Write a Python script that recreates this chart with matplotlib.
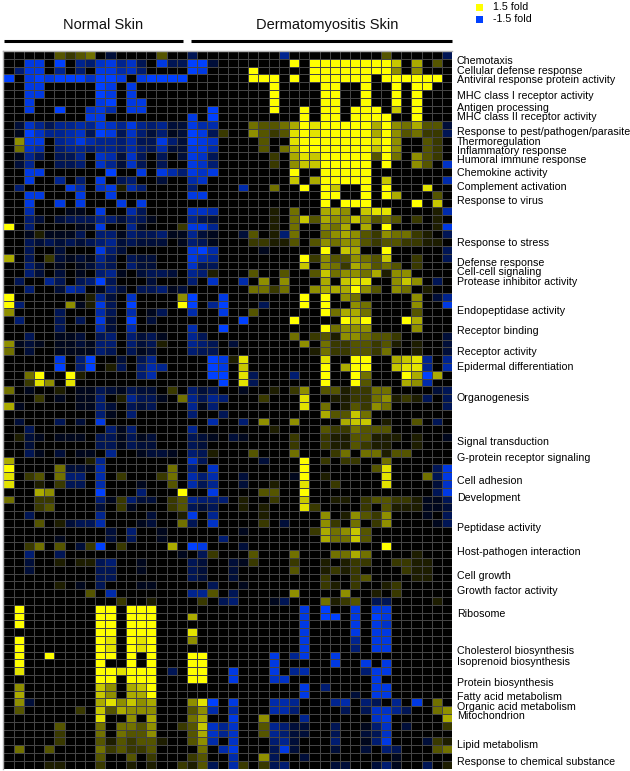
import numpy as np
import matplotlib
matplotlib.use("Agg")
import matplotlib.pyplot as plt
from matplotlib.colors import LinearSegmentedColormap
from matplotlib.patches import Rectangle

plt.rcParams['font.family'] = ['Liberation Sans', 'DejaVu Sans']

# Each row is one gene set, each character one sample. '.' = no change,
# '1'-'9' = induced (ninths of 1.5 fold), 'a'-'i' = repressed (ninths of -1.5 fold)
expression_rows = [
"..... 3234. b.... 3..c. ..... ..e.. ..... ..3.. ...c",
"..hh. i.edg hegc. hccii b.... ...9. 99999 9997. 6.3.",
".dhh. e.d.h hfgd. ...ih ....9 ..... 99999 9995. 5...",
"i.hih iiigi ih.hi iii.. ....9 99.9. 99999 9.999 999.",
"..hh. ....i h.h.. ..... ..... .9... .99.. 9..9. 99..",
"..hh. ....i h.h.. ..... ..... .9... .99.. 9..9. 9...",
"..h.. ....h i.hh. ..... ..... .9... .99.. 9..9. 9...",
"..h.. i..gh f.hh. ..... i.... .9..9 .99.9 99.7. 9...",
"..... ...hh ..... ...h. i.... ....9 .99.9 999.. 9...",
".bgec eefeh gehed ebbhf f...4 33469 89999 96954 633b",
".aige efgci hcgdb dabih c2..5 32389 89999 96953 422c",
".5hh. efhfe edfcc hdbih g.... 3..89 99999 9895. .32.",
".4gf. deede edfdc fbbhh f.... 3.479 99999 9795. .32.",
".aec. cce.g fbgc. c.bhg c.... .2.68 79999 9394. 532.",
".be.. ccd.g ebgc. c..hg d.... .2.57 79999 9.9.. 53.g",
"..hh. ..... i..h. hfdhg h.... ...9. .9999 9.... ....",
"..h.. e.d.h .cd.. b..fg ..... ...7. 69999 9.7.. ...f",
".d... .hf.g h1fd. ...d. ...f. .4..9 .97.. 9.9.. .8..",
"..hh. ..h.. h.... ...hh ..... ..... .99.. 9.96. ..3.",
"..h.. h.h.. .h.h. ..... ..... ..... .9.99 9.... 9.7.",
"..f.. .aa.h ..fc. ...gg f.... .1.4. .665. 788.. ..1f",
"..db. bccce dbdca ...ec b.... .1.47 36557 5343. 2.1.",
"9.d.. ..aah ..ea. ..2hh e.... .1.4. .546. 6.9.. ..1h",
"..a1a aac.d dadcc daaeb a..b3 .1d4. .4565 32544 21.c",
"..cbc bcbcd ebcbb b.adc a...2 2113. 35455 32332 211.",
"..c.. b...h db... ...hi f.... a.... .9.76 ..9.. ...c",
"6.c.2 babae c.cbb ...hf e.... ....9 25335 437.. 2..c",
"..db. a.abd c.dbb ...gc c.... ....7 .5426 5343. 2...",
"..db. b.a.d ea.bc cb.ed 1...3 ..3.. 37455 46155 ....",
".c..e c.cdi c...b ...d. g..f. 5.5.. .6.78 8..57 5.c.",
"..d.. bfe.a db.cc dab.. ....4 424.. 56669 53.54 .1..",
"9.... ...1e b.g.. ..5i. .h... ....9 .9.54 ..... 5.be",
"9d... .5a1h c.i.. ..9i. ei... c...9 .9..5 4.... 5..h",
"5.... c...f c.f.a c..f. .h..3 ..... .9466 4.... 3...",
".d... c.c.h b.i.b ..... ...i. ...9. ...97 9...9 6...",
"..... c...f b.f.. ...f. .i... ..... .9455 5.... 5...",
"..c.. aab.c d.dbc a..ec ..... ...4. 23155 4332. ...b",
"5aba. aabad d.dbc 1..ed c.b.. ....5 .4223 3231. 1..b",
"4.b.. aaaad c.cab ...dc c.... ..... 14223 324.. 1..b",
"..... h.di. .b.ce ..... ih18. ..... .8..9 9..67 8e.e",
"..... i.di. 1c.df e.... ih.7. ..... .9.69 9..78 8e.f",
"..49. .91.. ...df ..... ii.8c ...d. .9..9 4...9 6i6.",
"..285 .8... ..... ..... .i.8c ..... .9..9 3...6 5f..",
"4.a.. 1.aac bacbb .2.db c..a. .1.25 .3312 244.. ..bc",
"...2. a.aad .1ecc a.4ec ed... 2...8 ..112 24512 1c.c",
"6a... ..aad b.cbc ...ea d.... ....8 .4.13 254.. ...c",
"..... ....d a.d.. ...d. .c... ..... .6337 4.... ....",
".b... c.b.h ..... ..... f..d. 5..5. ...67 7.1.. 3.c.",
"..c.. ..... dad.. ...e. ..... .1... .3224 333.. ....",
".1ba. aaa.c cacab ...cb a.ba. ...2. .2113 3111. 1..a",
"..b.. ....c cacbb ...cb ..... ...2. .2113 211.. 1...",
"..ca. b.aa. e..ab ba.dc 1...3 ...4. ..24. 44133 ....",
"6.... ...1e ..... ...gc ..... b...9 .2.22 ..4.. ....",
"9.... 4bbaf ..... .4.d. g.... ....9 ..... .38.. ..ch",
"8.23. 4dd.f .2... 24.fd f..b. ...a9 .1... ..8.. .4ch",
"8..1. 2cc.f ...a. .3.fc e..b. .1..8 ..2.. ..8.. ..bg",
"...65 ....i ...d. ..9.. h.... 33..9 ..... ..... ..ch",
"4..22 ....d a2dbb .23ed dd.1. .2..7 ..11. 23322 1aac",
"...23 ....b .2a.. .23cb c..1. 1...8 2.... 2.311 1aab",
"..c.. ....e ....b ..1h. e.... 1.... .5.15 325.. .a.c",
"...3. 1bccf ...ab ..4c. g.... 2.b.. .52.4 .25.. ..ac",
"..... ..... b.d.. a.... ...a. ..... 26457 3.... ....",
"..... a.... b.c.. a.... .d... ..... .6447 3.... ....",
"..24. 3.b2i .2... .6.ih ...b. ..... ..... ..9.. ....",
"..d.. c.... ..... ..a.c 2...3 ...4. ..446 4.... 1...",
"..b.. 1.11c d..a. ...cb ..ba2 ...2. .1.12 2..22 11..",
"..b.. ....c c..a. ...cb ..b.. ...3. .1212 ....2 11..",
"..... ....c c.... ...cb ..b.. ..... .2..2 3.... 11..",
"..... 1.a.c ...aa ..... c..a. ..... .21.2 ..12. ....",
"..... ...3. f.... ...ee 3.c.. ...5. ...5. .1.2. ....",
"..... ..... .2..1 ....2 .cd.. .ac.. .4123 .cc.. ..1.",
".9... ....9 9.999 ..... ..... ....h .i..h .hh.. ....",
".9... ....9 9.999 ...6. ..... ....h .ii.h .ih.. ....",
".9... ....9 9.999 ..... ..... ....h ....h .hg.. ....",
"..... ....9 9.999 ...8. ..... ....h ....h .hh.. ....",
".9... ....9 8.989 ...5. ..... ....h ....e .hh.. ....",
".9... ....9 8.989 ..... ..... ....h ....d .hh.. ....",
".9..9 ....9 9.9.9 ...99 ..... .h.eh ..h.. ..... ....",
".9... ....9 ..9.9 ...99 ..... .h... ..h.. h.h.. ....",
".8... ....9 98999 .c.99 ..h.. .h.ef ..... dhh.. ....",
"..... ....9 9.999 ...99 ..h.. .gg.. ..... .h... ....",
".5... ....7 5.679 ..... ..... ....h .d... .hh.. ....",
".6... ....7 5.669 ..... ..... ....h ....b .hh.. ....",
".5b.. ....6 85756 ...58 i.h.. .ffe. ..ef. dc.e. h.4.",
".3... ..2.7 36555 ...35 f.f.. .ffd. ...c. cggec ..45",
"..... ....8 ..5.6 ...46 ..h.. 5...e ..... .gh.. ...6",
"..... 3...4 .4435 ..237 geg.. 3edbb ..c.. adg.b ...2",
"..... 2...4 .4335 ...36 geg.. 3edbb ..c.. bcg.. ....",
"..... 2...3 13233 1..35 f.g.. .deb. ..d.. adh.. .b21",
".4..3 ....4 23223 ....4 .fh.. .chb. ..b.. b.dc. ..34",
"..... ....3 ..3.2 ...23 ..f.. 5c..b ..... ...a. ....",
"....1 1...2 ..1.1 ..213 c.f2. 2cd.. ..bb. .bda. .c.1",
]

group_names = ["Normal Skin", "Dermatomyositis Skin"]
group_sizes = [18, 26]

term_names = [
"Chemotaxis", "Cellular defense response", "Antiviral response protein activity",
"MHC class I receptor activity", "Antigen processing", "MHC class II receptor activity",
"Response to pest/pathogen/parasite", "Thermoregulation", "Inflammatory response",
"Humoral immune response", "Chemokine activity", "Complement activation",
"Response to virus", "Response to stress", "Defense response", "Cell-cell signaling",
"Protease inhibitor activity", "Endopeptidase activity", "Receptor binding",
"Receptor activity", "Epidermal differentiation", "Organogenesis", "Signal transduction",
"G-protein receptor signaling", "Cell adhesion", "Development", "Peptidase activity",
"Host-pathogen interaction", "Cell growth", "Growth factor activity", "Ribosome",
"Cholesterol biosynthesis", "Isoprenoid biosynthesis", "Protein biosynthesis",
"Fatty acid metabolism", "Organic acid metabolism", "Mitochondrion", "Lipid metabolism",
"Response to chemical substance",
]
# row position of each term label, in heatmap row units
term_rows = [
1.15, 2.4, 3.6, 5.6, 7.2, 8.3, 10.3, 11.5, 12.65, 13.85, 15.5, 17.3, 19.1,
24.5, 27.0, 28.2, 29.5, 33.2, 35.8, 38.5, 40.4, 44.4, 50.0, 52.1, 55.0, 57.2,
61.0, 64.1, 67.2, 69.1, 72.0, 76.8, 78.2, 80.9, 82.7, 84.0, 85.1, 88.8, 91.0,
]

legend_labels = ["1.5 fold", "-1.5 fold"]
legend_values = [1.5, -1.5]
FULL_SCALE = 1.5


def decode(ch):
    if ch == '.':
        return 0.0
    if ch.isdigit():
        return int(ch) / 9 * FULL_SCALE
    return -(ord(ch) - ord('a') + 1) / 9 * FULL_SCALE


matrix = np.array([[decode(c) for c in row.replace(' ', '')] for row in expression_rows])
assert matrix.shape == (92, 44)

W, H = 630, 771
fig = plt.figure(figsize=(W / 100, H / 100), dpi=100, facecolor='white')


def axes_px(x0, y0, x1, y1):
    return fig.add_axes([x0 / W, 1 - y1 / H, (x1 - x0) / W, (y1 - y0) / H])


cmap = LinearSegmentedColormap.from_list(
    'fold', [(0.0, '#0040ff'), (0.5, '#000000'), (1.0, '#ffff00')], N=256)

ax = axes_px(3.3, 51, 452.1, 768.6)
ax.pcolormesh(np.arange(45), np.arange(93), matrix, cmap=cmap, vmin=-FULL_SCALE, vmax=FULL_SCALE,
              edgecolors='#454545', linewidth=0.6)
ax.set_xlim(0, 44)
ax.set_ylim(92, 0)
ax.set_xticks([])
ax.set_yticks(term_rows)
ax.set_yticklabels(term_names, fontsize=7.65, color='black')
ax.yaxis.tick_right()
ax.tick_params(axis='y', length=0, pad=3.3)
for side, spine in ax.spines.items():
    spine.set_visible(side in ('left', 'top'))
    spine.set_color('#b0b0b0')
    spine.set_linewidth(1.0)

# sample-group headers
start = 0
gap = 0.4
for i, (name, size) in enumerate(zip(group_names, group_sizes)):
    x0 = start + (gap if i else 0.05)
    x1 = start + size - (0.4 if i == 0 else 0)
    ax.plot([x0, x1], [-1.32, -1.32], transform=ax.transData, color='black', lw=2.2,
            clip_on=False, solid_capstyle='butt')
    ax.text(start + size / 2 + 0.8, -3.33, name, ha='center', va='center',
            fontsize=10.5, color='#111111')
    start += size

# colour key
for i, (lab, val) in enumerate(zip(legend_labels, legend_values)):
    y = 7.2 + 12 * i
    fig.patches.append(Rectangle((476 / W, 1 - (y + 3.4) / H), 6.8 / W, 6.8 / H, transform=fig.transFigure,
                                 facecolor=cmap((val + FULL_SCALE) / (2 * FULL_SCALE)), edgecolor='none'))
    fig.text(492.7 / W, 1 - y / H, lab, fontsize=7.65, va='center', ha='left', color='black')

fig.savefig('out.png', dpi=100, facecolor='white')
